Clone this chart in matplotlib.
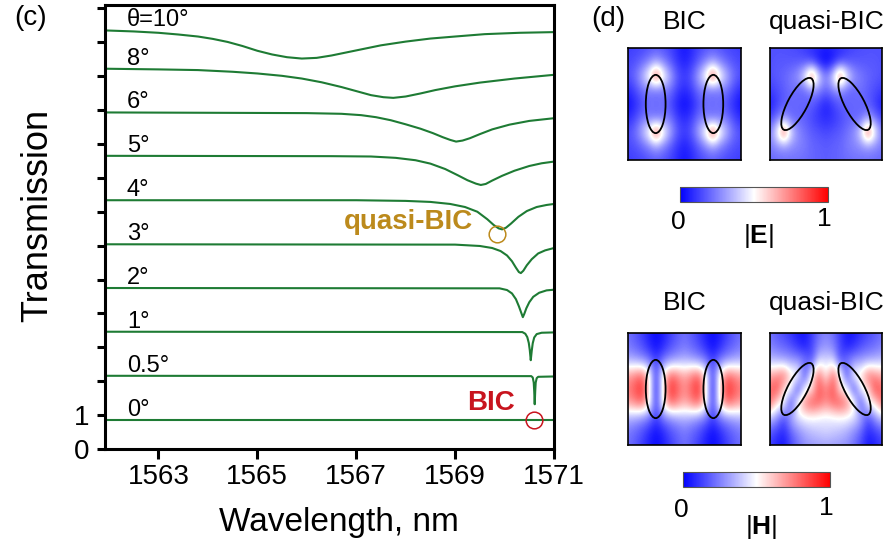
import numpy as np
import matplotlib
matplotlib.use('Agg')
import matplotlib.pyplot as plt
from matplotlib.patches import Ellipse

plt.rcParams['font.family'] = ['Liberation Sans', 'DejaVu Sans']
plt.rcParams['mathtext.fontset'] = 'custom'
plt.rcParams['mathtext.rm'] = 'Liberation Sans'
plt.rcParams['mathtext.bf'] = 'Liberation Sans:bold'

# ---- panel (c): transmission spectra ----
angle_labels = ['0°', '0.5°', '1°', '2°', '3°', '4°', '5°', '6°', '8°', 'θ=10°']
offsets = [0, 1.30, 2.60, 3.89, 5.18, 6.48, 7.79, 9.07, 10.36, 11.49]

wl_0 = [1561.92, 1571.0]
T_0 = [0.86, 0.86]
wl_05 = [1561.92, 1570.54, 1570.57, 1570.59, 1570.60, 1570.61, 1570.62, 1570.63,
         1570.65, 1570.68, 1571.0]
T_05 = [0.86, 0.85, 0.81, 0.66, 0.40, 0.02, 0.40, 0.66, 0.79, 0.83, 0.84]
wl_1 = [1561.92, 1570.36, 1570.42, 1570.46, 1570.49, 1570.51, 1570.53, 1570.55,
        1570.57, 1570.60, 1570.65, 1570.75, 1571.0]
T_1 = [0.86, 0.85, 0.80, 0.70, 0.53, 0.32, 0.02, 0.30, 0.52, 0.69, 0.79, 0.83, 0.84]
wl_2 = [1561.92, 1569.9, 1570.05, 1570.15, 1570.23, 1570.29, 1570.34, 1570.37,
        1570.40, 1570.44, 1570.50, 1570.58, 1570.7, 1570.85, 1571.0]
T_2 = [0.86, 0.85, 0.80, 0.70, 0.53, 0.32, 0.12, 0.0, 0.10, 0.26, 0.44, 0.60, 0.72,
       0.79, 0.81]
wl_3 = [1561.92, 1569.0, 1569.5, 1569.75, 1569.92, 1570.05, 1570.15, 1570.23, 1570.29,
        1570.33, 1570.38, 1570.45, 1570.55, 1570.68, 1570.82, 1571.0]
T_3 = [0.86, 0.85, 0.81, 0.75, 0.66, 0.53, 0.36, 0.17, 0.04, 0.01, 0.08, 0.24, 0.42,
       0.59, 0.68, 0.75]
wl_4 = [1561.92, 1567.0, 1568.0, 1568.5, 1568.9, 1569.2, 1569.45, 1569.65, 1569.78,
        1569.88, 1569.95, 1570.03, 1570.13, 1570.28, 1570.45, 1570.65, 1570.85, 1571.0]
T_4 = [0.86, 0.86, 0.84, 0.81, 0.75, 0.66, 0.52, 0.30, 0.13, 0.03, 0.0, 0.05, 0.17,
       0.37, 0.54, 0.66, 0.72, 0.75]
wl_5 = [1561.92, 1566.5, 1567.3, 1567.8, 1568.2, 1568.5, 1568.8, 1569.05, 1569.25,
        1569.42, 1569.52, 1569.62, 1569.75, 1569.95, 1570.2, 1570.5, 1570.75, 1571.0]
T_5 = [0.86, 0.85, 0.84, 0.80, 0.73, 0.63, 0.47, 0.29, 0.14, 0.04, 0.0, 0.03, 0.13,
       0.27, 0.42, 0.56, 0.64, 0.69]
wl_6 = [1561.92, 1564.0, 1566.0, 1566.7, 1567.1, 1567.4, 1567.7, 1568.0, 1568.3,
        1568.55, 1568.75, 1568.9, 1569.02, 1569.15, 1569.3, 1569.5, 1569.75, 1570.1,
        1570.5, 1571.0]
T_6 = [0.86, 0.85, 0.84, 0.82, 0.78, 0.72, 0.63, 0.51, 0.38, 0.25, 0.13, 0.05, 0.0,
       0.03, 0.10, 0.22, 0.36, 0.50, 0.61, 0.69]
wl_8 = [1561.92, 1563.0, 1563.8, 1564.5, 1565.0, 1565.5, 1565.9, 1566.3, 1566.7,
        1567.0, 1567.3, 1567.55, 1567.75, 1568.0, 1568.3, 1568.6, 1569.0, 1569.5,
        1570.2, 1571.0]
T_8 = [0.86, 0.84, 0.82, 0.77, 0.72, 0.65, 0.57, 0.46, 0.32, 0.20, 0.08, 0.02, 0.0,
       0.04, 0.13, 0.23, 0.34, 0.45, 0.57, 0.68]
wl_10 = [1561.92, 1562.5, 1563.0, 1563.4, 1563.8, 1564.1, 1564.4, 1564.7, 1565.0,
         1565.3, 1565.6, 1565.9, 1566.2, 1566.5, 1566.8, 1567.1, 1567.5, 1568.0,
         1568.5, 1569.0, 1569.6, 1570.3, 1571.0]
T_10 = [0.86, 0.83, 0.79, 0.74, 0.68, 0.61, 0.52, 0.40, 0.26, 0.15, 0.07, 0.03, 0.05,
        0.12, 0.21, 0.30, 0.42, 0.53, 0.62, 0.68, 0.75, 0.79, 0.81]

spectra = [(wl_0, T_0), (wl_05, T_05), (wl_1, T_1), (wl_2, T_2), (wl_3, T_3),
           (wl_4, T_4), (wl_5, T_5), (wl_6, T_6), (wl_8, T_8), (wl_10, T_10)]

# marked points (wavelength, shifted transmission)
quasi_bic_point = (1569.85, 6.33)
bic_point = (1570.60, 0.86)

# ---- panel (d): field magnitudes, rows y = 0..1 (step 1/8), columns x = 0..0.5
# (step 1/16); the maps are mirror symmetric about x = 0.5 ----
E_bic_half = [
    [0.12, 0.13, 0.14, 0.16, 0.18, 0.16, 0.13, 0.08, 0.04],
    [0.14, 0.16, 0.20, 0.26, 0.32, 0.26, 0.18, 0.10, 0.06],
    [0.16, 0.22, 0.36, 0.55, 0.90, 0.55, 0.34, 0.18, 0.12],
    [0.08, 0.14, 0.22, 0.24, 0.20, 0.24, 0.22, 0.12, 0.08],
    [0.02, 0.08, 0.14, 0.22, 0.22, 0.22, 0.14, 0.06, 0.02],
    [0.08, 0.14, 0.22, 0.24, 0.20, 0.24, 0.22, 0.12, 0.08],
    [0.16, 0.22, 0.36, 0.55, 0.90, 0.55, 0.34, 0.18, 0.12],
    [0.14, 0.16, 0.20, 0.26, 0.32, 0.26, 0.18, 0.10, 0.06],
    [0.12, 0.13, 0.14, 0.16, 0.18, 0.16, 0.13, 0.08, 0.04],
]
E_quasi_half = [
    [0.16, 0.16, 0.16, 0.15, 0.14, 0.12, 0.10, 0.08, 0.06],
    [0.16, 0.17, 0.17, 0.17, 0.17, 0.16, 0.12, 0.05, 0.00],
    [0.16, 0.18, 0.20, 0.24, 0.30, 0.50, 0.88, 0.45, 0.26],
    [0.12, 0.15, 0.18, 0.22, 0.20, 0.20, 0.28, 0.26, 0.20],
    [0.05, 0.12, 0.18, 0.20, 0.20, 0.20, 0.18, 0.12, 0.06],
    [0.14, 0.22, 0.30, 0.20, 0.20, 0.18, 0.14, 0.10, 0.08],
    [0.26, 0.50, 0.88, 0.45, 0.28, 0.22, 0.18, 0.16, 0.14],
    [0.24, 0.28, 0.30, 0.28, 0.26, 0.24, 0.20, 0.19, 0.18],
    [0.20, 0.21, 0.22, 0.22, 0.22, 0.21, 0.20, 0.19, 0.18],
]
H_bic_half = [
    [0.22, 0.18, 0.12, 0.06, 0.02, 0.06, 0.12, 0.18, 0.22],
    [0.24, 0.20, 0.16, 0.08, 0.03, 0.08, 0.16, 0.20, 0.24],
    [0.36, 0.34, 0.30, 0.25, 0.12, 0.25, 0.30, 0.34, 0.36],
    [0.68, 0.74, 0.80, 0.55, 0.10, 0.55, 0.80, 0.74, 0.66],
    [0.76, 0.84, 0.92, 0.55, 0.06, 0.55, 0.92, 0.82, 0.72],
    [0.68, 0.74, 0.80, 0.55, 0.10, 0.55, 0.80, 0.74, 0.66],
    [0.36, 0.34, 0.30, 0.25, 0.12, 0.25, 0.30, 0.34, 0.36],
    [0.24, 0.20, 0.16, 0.08, 0.03, 0.08, 0.16, 0.20, 0.24],
    [0.22, 0.18, 0.12, 0.06, 0.02, 0.06, 0.12, 0.18, 0.22],
]
H_quasi_half = [
    [0.22, 0.18, 0.14, 0.10, 0.05, 0.04, 0.12, 0.22, 0.26],
    [0.26, 0.22, 0.20, 0.16, 0.10, 0.06, 0.14, 0.26, 0.30],
    [0.38, 0.36, 0.34, 0.32, 0.30, 0.25, 0.15, 0.45, 0.42],
    [0.66, 0.72, 0.80, 0.55, 0.55, 0.10, 0.55, 0.80, 0.50],
    [0.78, 0.88, 0.55, 0.50, 0.08, 0.50, 0.55, 0.85, 0.74],
    [0.80, 0.55, 0.50, 0.10, 0.55, 0.75, 0.85, 0.80, 0.72],
    [0.40, 0.30, 0.15, 0.35, 0.45, 0.50, 0.50, 0.48, 0.46],
    [0.18, 0.12, 0.08, 0.20, 0.28, 0.34, 0.38, 0.40, 0.42],
    [0.12, 0.06, 0.04, 0.14, 0.22, 0.28, 0.30, 0.31, 0.32],
]

green = '#1E7B34'
gold = '#BC8A1C'
red = '#C8141E'

W, H = 891, 550
fig = plt.figure(figsize=(W / 100, H / 100), dpi=100)


def px(x0, y0, w, h):
    # pixel box (left, top, width, height) -> figure fraction rect
    return [x0 / W, 1 - (y0 + h) / H, w / W, h / H]


# ---------------- panel (c) ----------------
ax = fig.add_axes(px(105, 5, 449, 444))
for (wl, T), off, lab in zip(spectra, offsets, angle_labels):
    ax.plot(wl, np.array(T) + off, color=green, lw=1.5, solid_joinstyle='round')
    ax.text(1562.36, off + T[0] + 0.12, lab, fontsize=17, va='baseline', ha='left')

ax.plot(*quasi_bic_point, 'o', ms=12, mfc='none', mec=gold, mew=1.1)
ax.plot(*bic_point, 'o', ms=12, mfc='none', mec=red, mew=1.1)
ax.text(1569.36, 6.70, 'quasi-BIC', color=gold, fontsize=20, fontweight='bold',
        ha='right', va='center')
ax.text(1570.21, 1.37, 'BIC', color=red, fontsize=20, fontweight='bold',
        ha='right', va='center')

ax.set_xlim(1561.92, 1571.0)
ax.set_ylim(0, 13.1)
ax.set_xticks([1563, 1565, 1567, 1569, 1571])
ax.set_yticks(range(14))
ax.set_yticklabels(['0', '1'] + [''] * 12)
ax.tick_params(axis='x', direction='out', length=7, width=2.2, labelsize=20, pad=4)
ax.tick_params(axis='y', direction='out', length=5.5, width=2.2, labelsize=20, pad=6)
for s in ax.spines.values():
    s.set_linewidth(2.2)

fig.text(339 / W, 1 - 523 / H, 'Wavelength, nm', fontsize=24, ha='center', va='center')
fig.text(38 / W, 1 - 215 / H, 'Transmission', fontsize=26, rotation=90,
         ha='center', va='center')
fig.text(31 / W, 1 - 18 / H, '(c)', fontsize=20, ha='center', va='center')
fig.text(608 / W, 1 - 19 / H, '(d)', fontsize=20, ha='center', va='center')


# ---------------- panel (d) ----------------
def full_map(half):
    half = np.array(half)
    return np.hstack([half, half[:, -2::-1]])


def draw_map(rect, half, tilt):
    m = fig.add_axes(rect)
    im = m.imshow(full_map(half), cmap='bwr', vmin=0, vmax=1, interpolation='bicubic',
                  extent=(-1 / 32, 33 / 32, 17 / 16, -1 / 16), aspect='auto')
    m.set_xlim(0, 1)
    m.set_ylim(1, 0)
    for cx, sgn in ((0.245, 1), (0.755, -1)):
        m.add_patch(Ellipse((cx, 0.5), 0.175, 0.52, angle=sgn * tilt,
                            fill=False, ec='black', lw=1.3))
    m.set_xticks([])
    m.set_yticks([])
    for s in m.spines.values():
        s.set_linewidth(1.2)
    return im


imE = draw_map(px(628, 48, 113, 112), E_bic_half, 0)
draw_map(px(770, 48, 112, 112), E_quasi_half, 28)
imH = draw_map(px(628, 333, 113, 112), H_bic_half, 0)
draw_map(px(770, 333, 112, 112), H_quasi_half, 28)

for im, box, lbl, ys in ((imE, (680, 187, 148, 15), r'$|\mathbf{E}|$', (222, 219, 236)),
                         (imH, (683, 472, 147, 15), r'$|\mathbf{H}|$', (510, 508, 527))):
    cax = fig.add_axes(px(*box))
    cb = fig.colorbar(im, cax=cax, orientation='horizontal')
    cb.set_ticks([])
    cb.outline.set_linewidth(0.8)
    cb.outline.set_edgecolor('#555555')
    x0 = box[0]
    fig.text((x0 - 2) / W, 1 - ys[0] / H, '0', fontsize=19, ha='center', va='center')
    fig.text((x0 + box[2] - 4) / W, 1 - ys[1] / H, '1', fontsize=19, ha='center', va='center')
    fig.text((x0 + 78) / W, 1 - ys[2] / H, lbl, fontsize=19, ha='center', va='center')

for y in (22, 303):
    fig.text(685 / W, 1 - y / H, 'BIC', fontsize=19, ha='center', va='center')
    fig.text(827 / W, 1 - y / H, 'quasi-BIC', fontsize=19, ha='center', va='center')

fig.savefig('out.png', dpi=100)
